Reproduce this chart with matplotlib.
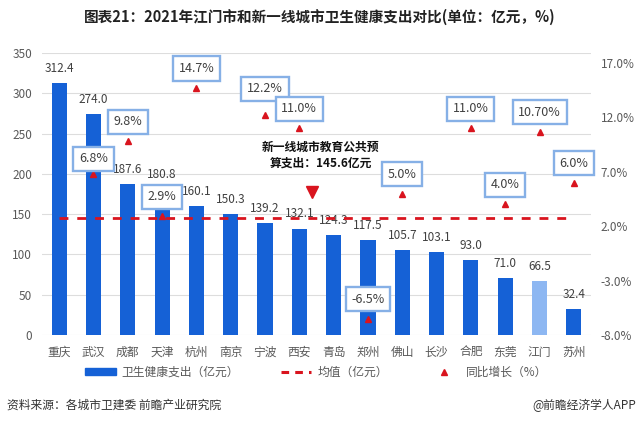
import matplotlib.pyplot as plt
from matplotlib.lines import Line2D
from matplotlib.patches import Patch

plt.rcParams['font.family'] = ['Noto Sans CJK SC', 'DejaVu Sans']

# data
cities = ['重庆', '武汉', '成都', '天津', '杭州', '南京', '宁波', '西安',
          '青岛', '郑州', '佛山', '长沙', '合肥', '东莞', '江门', '苏州']
spend = [312.4, 274.0, 187.6, 180.8, 160.1, 150.3, 139.2, 132.1,
         124.3, 117.5, 105.7, 103.1, 93.0, 71.0, 66.5, 32.4]
growth = [None, 6.8, 9.8, 2.9, 14.7, None, 12.2, 11.0,
          None, -6.5, 5.0, None, 11.0, 4.0, 10.7, 6.0]
growth_txt = [None, '6.8%', '9.8%', '2.9%', '14.7%', None, '12.2%', '11.0%',
              None, '-6.5%', '5.0%', None, '11.0%', '4.0%', '10.70%', '6.0%']
avg = 145.6

blue = '#1561D6'
light = '#8DB7F2'
red = '#D9141E'
grey = '#595959'

fig = plt.figure(figsize=(6.4, 4.23), dpi=100)
ax = fig.add_axes([42/640, 1-335/423, (591-42)/640, (335-53)/423])
ax2 = ax.twinx()

x = list(range(len(cities)))
colors = [light if c == '江门' else blue for c in cities]
ax.bar(x, spend, width=0.44, color=colors, zorder=2)
for i, v in enumerate(spend):
    ax.annotate(f'{v:.1f}', (i, v), xytext=(0, 10.5), textcoords='offset points',
                ha='center', va='center', fontsize=8.5, color='#404040', zorder=3)

ax.plot(x, [avg]*len(x), color=red, lw=2, dashes=(3.2, 3.2), zorder=4)

ax.set_xlim(-0.5, len(cities)-0.5)
ax.set_ylim(0, 350)
ax.set_yticks(range(0, 351, 50))
ax.grid(axis='y', color='#dddddd', lw=0.8, zorder=0)
ax.set_xticks(x)
ax.set_xticklabels(cities)
ax.tick_params(axis='x', length=0, pad=8, labelsize=8.5, labelcolor=grey)
ax.tick_params(axis='y', length=0, pad=7, labelsize=8.5, labelcolor=grey)
for s in ax.spines.values():
    s.set_visible(False)
for s in ax2.spines.values():
    s.set_visible(False)

ax2.set_ylim(-8, -8 + (335-53)/10.88)
ax2.set_yticks([-8, -3, 2, 7, 12, 17])
ax2.set_yticklabels([f'{t:.1f}%' for t in [-8, -3, 2, 7, 12, 17]])
ax2.tick_params(axis='y', length=0, pad=7, labelsize=8.5, labelcolor=grey)

gx = [i for i, g in enumerate(growth) if g is not None]
gy = [g for g in growth if g is not None]
ax2.plot(gx, gy, ls='none', marker='^', ms=4.5, color=red, zorder=5)
offs = {1: 11, 6: 19}
for i, g in enumerate(growth):
    if g is None:
        continue
    dy = offs.get(i, 14)
    ax2.annotate(growth_txt[i], (i, g), xytext=(0, dy), textcoords='offset points',
                 ha='center', va='center', fontsize=9, color='#404040', zorder=6,
                 bbox=dict(boxstyle='square,pad=0.45', fc='white', ec='#86B0E6', lw=1.7))

# annotation for the average line
ax.plot([7.36], [177], ls='none', marker='v', ms=8, color=red, zorder=5)
ax.text(7.62, 223, '新一线城市教育公共预\n算支出：145.6亿元', ha='center', va='center',
        fontsize=8.5, fontweight='bold', color='#111111', linespacing=1.3, zorder=6)

fig.text(0.5, 1-17/423, '图表21：2021年江门市和新一线城市卫生健康支出对比(单位：亿元，%)',
         ha='center', va='center', fontsize=10.5, fontweight='bold', color='#222222')

handles = [Patch(color=blue), Line2D([], [], color=red, lw=2.2, dashes=(2.5, 2)),
           Line2D([], [], ls='none', marker='^', ms=4, color=red)]
fig.legend(handles, ['卫生健康支出（亿元）', '均值（亿元）', '同比增长（%）'],
           loc='center', bbox_to_anchor=(316/640, 1-372/423), ncol=3, frameon=False,
           fontsize=8.5, labelcolor=grey, handlelength=2.6, handleheight=0.5,
           columnspacing=3.5, handletextpad=0.5)

fig.text(7/640, 1-405/423, '资料来源：各城市卫建委 前瞻产业研究院', ha='left', va='center',
         fontsize=8.5, color='#333333')
fig.text(636/640, 1-405/423, '@前瞻经济学人APP', ha='right', va='center',
         fontsize=8.5, color='#333333')

fig.savefig('out.png', dpi=100)
